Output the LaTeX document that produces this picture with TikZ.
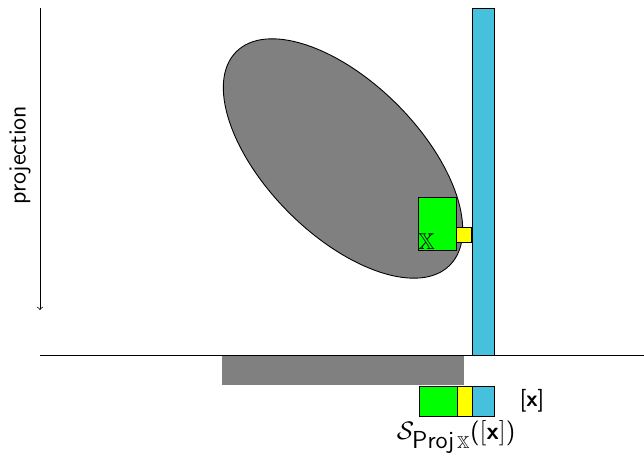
\documentclass[tikz,border=0pt]{standalone}
\usepackage{amssymb}
\usepackage{fontspec}
\definecolor{cyanbar}{HTML}{45C1DE}
\definecolor{greenbox}{HTML}{00FF00}
\definecolor{yellowbox}{HTML}{FFFF00}
\definecolor{grayfill}{HTML}{808080}
\begin{document}
\begin{tikzpicture}[x=0.02cm,y=0.02cm,
  font=\sffamily\fontsize{13}{15}\selectfont,
  box/.style={draw=black, line width=0.5pt},
  lbl/.style={inner sep=0pt}]
\useasboundingbox (0,0) rectangle (644,454);
% projection shadow
\fill[grayfill] (222,69) rectangle (464,98);
% ellipse
\draw[box, fill=grayfill] (343,295.5) ellipse [x radius=3.02cm, y radius=1.53cm, rotate=-45];
% cyan bar
\draw[box, fill=cyanbar] (472,99) rectangle (494,446);
% green box and yellow box
\draw[box, fill=greenbox] (418,204) rectangle (456.5,257);
\draw[box, fill=yellowbox] (456.5,212) rectangle (471.5,227);
\node[lbl] (X) at (426.5,212) {$\mathbb{X}$};
% axis
\coordinate (hl) at (40,99);
\coordinate (hr) at (644,99);
\draw (hl) -- (hr);
\coordinate (atop) at (40,446);
\coordinate (abot) at (40,144);
\draw[-to] (atop) -- (abot);
\node[lbl, rotate=90, font=\sffamily\fontsize{14}{17}\selectfont] (proj) at (20,299) {projection};
% bottom boxes
\draw[box, fill=greenbox] (419,38) rectangle (457,68);
\draw[box, fill=yellowbox] (457,38) rectangle (472,68);
\draw[box, fill=cyanbar] (472,38) rectangle (494,68);
\node[lbl] (bx) at (532,53) {[\textbf{x}]};
\node[lbl, font=\sffamily\fontsize{14}{16}\selectfont] (S) at (456,17) {$\mathcal{S}_{\textsf{Proj}\,\mathbb{X}}\mathopen{}\textsf{(}[\textbf{\textsf{x}}]\textsf{)}$};
\end{tikzpicture}
\end{document}
